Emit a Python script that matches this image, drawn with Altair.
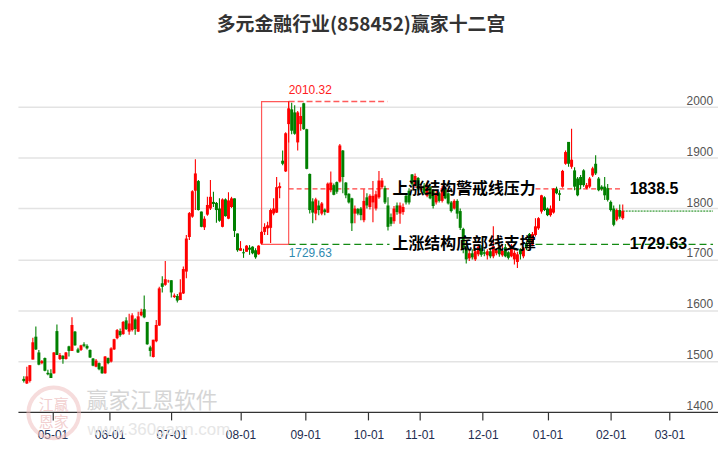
import altair as alt
import pandas as pd

# ---- candle data (trading-day index order) ----
opens = [1465,1456,1461,1503,1548,1517,1496,1506,1477,1476,1476,1559,1504,1510,1504,1529,1520,1558,1523,1522,
         1533,1530,1522,1505,1489,1496,1489,1476,1506,1499,1523,1545,1559,1553,1580,1558,1561,1582,1558,1590,
         1602,1577,1527,1508,1539,1570,1653,1650,1657,1659,1626,1628,1620,1633,1676,1744,1784,1835,1854,1794,
         1763,1788,1800,1813,1811,1800,1764,1818,1780,1803,1820,1751,1717,1714,1715,1723,1725,1718,1710,1731,
         1754,1761,1762,1790,1792,1840,1894,1873,1966,1995,1989,1930,1966,2007,1956,1868,1814,1790,1806,1790,
         1798,1792,1836,1846,1852,1853,1914,1851,1829,1820,1790,1799,1800,1777,1822,1803,1812,1800,1822,1842,
         1840,1806,1783,1775,1806,1790,1793,1825,1835,1867,1845,1860,1836,1845,1825,1842,1835,1812,1830,1815,
         1838,1830,1812,1800,1815,1795,1760,1722,1702,1712,1700,1710,1722,1714,1708,1716,1706,1712,1724,1708,
         1724,1714,1706,1700,1695,1720,1706,1732,1750,1729,1748,1761,1794,1822,1800,1787,1792,1839,1830,1843,
         1888,1931,1882,1875,1859,1862,1875,1840,1843,1865,1888,1859,1843,1843,1840,1813,1800,1778,1797,1781]
highs = [1470,1489,1492,1546,1568,1522,1502,1507,1483,1484,1518,1572,1516,1512,1518,1530,1586,1559,1526,1532,
         1537,1533,1523,1506,1504,1497,1490,1510,1507,1527,1544,1563,1564,1579,1586,1593,1594,1584,1597,1603,
         1629,1577,1530,1542,1581,1646,1667,1697,1660,1659,1633,1632,1661,1686,1748,1793,1836,1897,1856,1794,
         1785,1823,1856,1833,1813,1820,1820,1820,1832,1823,1820,1751,1736,1721,1728,1728,1726,1722,1728,1756,
         1771,1774,1800,1820,1862,1851,1914,1950,2010.32,2008,2003,1992,1999,2008,1957,1869,1820,1821,1816,1813,
         1800,1851,1873,1849,1853,1927,1915,1852,1830,1821,1806,1801,1803,1838,1830,1828,1854,1835,1874,1860,
         1845,1822,1790,1805,1812,1812,1810,1830,1840,1868,1869,1862,1848,1850,1850,1845,1838,1835,1833,1845,
         1842,1832,1815,1818,1818,1800,1762,1728,1718,1720,1722,1730,1728,1720,1720,1720,1765,1722,1728,1730,
         1730,1716,1730,1718,1715,1722,1725,1735,1752,1754,1781,1783,1827,1824,1802,1806,1840,1843,1836,1876,
         1914,1931,1957,1881,1862,1866,1877,1850,1862,1882,1905,1862,1846,1862,1848,1816,1806,1800,1808,1808]
lows = [1458,1455,1458,1503,1522,1492,1494,1480,1472,1467,1475,1512,1502,1495,1503,1509,1520,1530,1516,1520,
        1527,1523,1506,1490,1488,1482,1475,1475,1494,1497,1522,1543,1548,1552,1561,1552,1558,1552,1557,1588,
        1584,1532,1509,1507,1537,1569,1635,1648,1654,1625,1624,1615,1620,1632,1663,1738,1782,1797,1796,1763,
        1758,1786,1797,1803,1772,1774,1763,1784,1779,1801,1744,1715,1717,1703,1715,1709,1710,1701,1709,1729.63,
        1748,1748,1732,1787,1791,1820,1885,1872,1930,1946,1945,1914,1953,1955,1877,1790,1771,1777,1787,1787,
        1787,1791,1832,1826,1829,1851,1830,1820,1810,1756,1771,1787,1777,1773,1800,1798,1773,1796,1819,1838,
        1809,1757,1765,1770,1788,1770,1788,1808,1808,1845,1840,1835,1832,1828,1822,1818,1800,1808,1812,1812,
        1818,1808,1792,1798,1780,1758,1712,1692,1697,1700,1697,1706,1705,1706,1700,1702,1702,1708,1705,1705,
        1704,1700,1704,1690,1683,1700,1702,1718,1730,1726,1745,1758,1790,1795,1785,1784,1790,1828,1815,1841,
        1886,1882,1878,1836,1824,1838,1843,1838,1840,1862,1866,1834,1835,1817,1814,1794,1765,1775,1780,1778]
closes = [1461,1470,1492,1537,1523,1493,1500,1481,1474,1467,1517,1512,1512,1504,1517,1520,1571,1531,1517,1531,
          1530,1525,1507,1491,1501,1484,1476,1509,1496,1525,1543,1561,1551,1577,1563,1574,1590,1563,1588,1597,
          1586,1533,1520,1542,1571,1643,1646,1661,1658,1635,1629,1619,1635,1681,1741,1791,1834,1869,1797,1764,
          1780,1807,1823,1809,1797,1776,1818,1785,1816,1820,1756,1718,1722,1712,1727,1719,1712,1704,1727,1754,
          1764,1767,1797,1800,1842,1844,1888,1948,1997,1953,1947,1989,1982,1956,1878,1797,1792,1818,1797,1810,
          1793,1849,1851,1827,1833,1924,1862,1826,1812,1771,1800,1790,1787,1815,1806,1825,1825,1828,1855,1855,
          1812,1764,1770,1800,1793,1806,1803,1812,1812,1848,1864,1838,1842,1830,1845,1820,1805,1830,1815,1840,
          1820,1810,1795,1815,1790,1762,1722,1700,1712,1704,1716,1725,1709,1711,1716,1706,1726,1718,1710,1717,
          1706,1703,1727,1713,1710,1710,1722,1722,1733,1750,1765,1781,1826,1797,1787,1800,1839,1830,1827,1874,
          1911,1888,1896,1843,1826,1846,1846,1846,1859,1879,1869,1836,1838,1826,1817,1797,1768,1797,1784,1795]

tick_pos = [9.5, 28.5, 49, 72, 93.5, 114.5, 131.5, 152.5, 174, 195, 214.5]
tick_labels = ["05-01", "06-01", "07-01", "08-01", "09-01", "10-01", "11-01", "12-01", "01-01", "02-01", "03-01"]
y_ticks = [1400, 1500, 1600, 1700, 1800, 1900, 2000]

high_val = 2010.32
low_val = 1729.63
warn_val = 1838.5
rect_start, rect_end = 79, 88
x_min, x_max = -0.3, 229.0
text_start = 122.5
text_end = 170
last_i = len(closes) - 1
label_i = 201.3

title = "多元金融行业(858452)赢家十二宫"
warn_text = "上涨结构警戒线压力"
support_text = "上涨结构底部线支撑"

df = pd.DataFrame({"i": list(range(len(opens))), "open": opens, "high": highs, "low": lows, "close": closes})
df["dir"] = ["up" if c >= o else "down" for o, c in zip(opens, closes)]

xs = alt.Scale(domain=[x_min, x_max], nice=False, zero=False)
ys = alt.Scale(domain=[1400, 2100], nice=False, zero=False)
col = alt.Color("dir:N", scale=alt.Scale(domain=["up", "down"], range=["#ff0000", "#008000"]), legend=None)

label_expr = " : ".join([f"datum.value == {p} ? '{l}'" for p, l in zip(tick_pos, tick_labels)]) + " : ''"

xaxis = alt.Axis(values=tick_pos, labelExpr=label_expr, grid=False, tickSize=8, tickColor="#333",
                 tickWidth=1.2, domainColor="#333", domainWidth=1.2, labelColor="#1e2d50",
                 labelFont="Liberation Sans", labelFontSize=12, labelPadding=10, title=None)
yaxis = alt.Axis(values=y_ticks[1:], grid=True, gridColor="#e3e3e3", gridWidth=1.5, labels=False,
                 ticks=False, domain=False, title=None, orient="right")


def X(field):
    return alt.X(field, scale=xs, axis=xaxis)


def Y(field):
    return alt.Y(field, scale=ys, axis=yaxis)


base = alt.Chart(df)
wicks = base.mark_rule(strokeWidth=1.1).encode(x=X("i:Q"), y=Y("low:Q"), y2="high:Q", color=col)
bodies = base.mark_bar(size=3).encode(x=X("i:Q"), y=Y("open:Q"), y2="close:Q", color=col)

ylab_df = pd.DataFrame({"v": y_ticks})
ylabels = alt.Chart(ylab_df).mark_text(align="right", baseline="alphabetic", dy=-2, fontSize=12,
                                       font="Liberation Sans", color="#555").encode(
    x=alt.datum(x_max, scale=xs, axis=xaxis), y=Y("v:Q"), text=alt.Text("v:Q", format="d"))

rect = alt.Chart(pd.DataFrame({"a": [rect_start], "b": [rect_end], "lo": [low_val], "hi": [high_val]})).mark_rect(
    filled=False, stroke="#ff3b3b", strokeWidth=1.2, opacity=0.85).encode(
    x=X("a:Q"), x2="b:Q", y=Y("lo:Q"), y2="hi:Q")


def hline(x1, x2, v, color, dash, width=1.2, opacity=1.0):
    d = pd.DataFrame({"a": x1, "b": x2, "v": [v] * len(x1)})
    return alt.Chart(d).mark_rule(color=color, strokeDash=dash, strokeWidth=width, opacity=opacity).encode(
        x=X("a:Q"), x2="b:Q", y=Y("v:Q"))


top_line = hline([rect_end], [120.8], high_val, "#ff5a5a", [6, 3], 1.5)
warn_line = hline([rect_end, text_end], [text_start - 1, last_i], warn_val, "#ff4040", [5, 3], 1.2)
sup_line = hline([rect_end, text_end], [text_start - 1, x_max], low_val, "#138a13", [7, 4], 1.2)
last_line = hline([last_i], [x_max], closes[-1], "#008000", [2, 1], 1.0)


def txt(xv, yv, s, **kw):
    return alt.Chart(pd.DataFrame({"t": [s]})).mark_text(**kw).encode(
        x=alt.datum(xv, scale=xs, axis=xaxis), y=alt.datum(yv, scale=ys, axis=yaxis), text="t:N")


hi_lab = txt(rect_end, high_val, f"{high_val:.2f}", align="left", baseline="alphabetic", dy=-8,
             fontSize=12, font="Liberation Sans", color="#ff2020")
lo_lab = txt(rect_end, low_val, f"{low_val:.2f}", align="left", baseline="alphabetic", dy=13,
             fontSize=12, font="Liberation Sans", color="#2f8ab0")
warn_lab = txt(text_start, warn_val, warn_text, align="left", baseline="middle", fontSize=16,
               font="Noto Sans CJK SC", fontWeight="bold", color="#000")
sup_lab = txt(text_start, low_val, support_text, align="left", baseline="middle", fontSize=16,
              font="Noto Sans CJK SC", fontWeight="bold", color="#000")
warn_val_lab = txt(label_i, warn_val, f"{warn_val}", align="left", baseline="middle", fontSize=16,
                   font="Liberation Sans", fontWeight="bold", color="#000")
sup_val_lab = txt(label_i, low_val, f"{low_val:.2f}", align="left", baseline="middle", fontSize=16,
                  font="Liberation Sans", fontWeight="bold", color="#000")

# watermark
wm = pd.DataFrame({"t": ["x"]})
logo = alt.Chart(wm).mark_point(shape="circle", size=2600, filled=False, stroke="#f0c0c0",
                                strokeWidth=4, opacity=0.55).encode(x=alt.value(36), y=alt.value(359))
logo2 = alt.Chart(wm).mark_text(text="江赢", fontSize=15, font="Noto Sans CJK SC", color="#e8a8a8",
                                opacity=0.55).encode(x=alt.value(36), y=alt.value(351))
logo3 = alt.Chart(wm).mark_text(text="恩家", fontSize=15, font="Noto Sans CJK SC", color="#e8a8a8",
                                opacity=0.55).encode(x=alt.value(36), y=alt.value(368))
wm1 = alt.Chart(wm).mark_text(text="赢家江恩软件", fontSize=22, font="Noto Sans CJK SC", color="#c8c8c8",
                              opacity=0.75, align="left").encode(x=alt.value(69), y=alt.value(347))
wm2 = alt.Chart(wm).mark_text(text="www.360gann.com", fontSize=17, font="Liberation Sans", color="#e6e6e6",
                              align="left").encode(x=alt.value(70), y=alt.value(376))

chart = alt.layer(
    ylabels, logo, logo2, logo3, wm1, wm2, rect, top_line, warn_line, sup_line, last_line,
    wicks, bodies, hi_lab, lo_lab, warn_lab, sup_lab, warn_val_lab, sup_val_lab
).properties(
    width=704, height=358,
    title=alt.TitleParams(title, fontSize=19, font="Noto Sans CJK SC", fontWeight="bold", color="#333",
                          anchor="middle", offset=21, dx=-7),
    autosize=alt.AutoSizeParams(type="none"),
    padding={"left": 10, "top": 47, "right": 0, "bottom": 30},
).configure(background="white").configure_view(stroke=None)

chart.save("out.html", embed_options={"renderer": "svg", "actions": False})
